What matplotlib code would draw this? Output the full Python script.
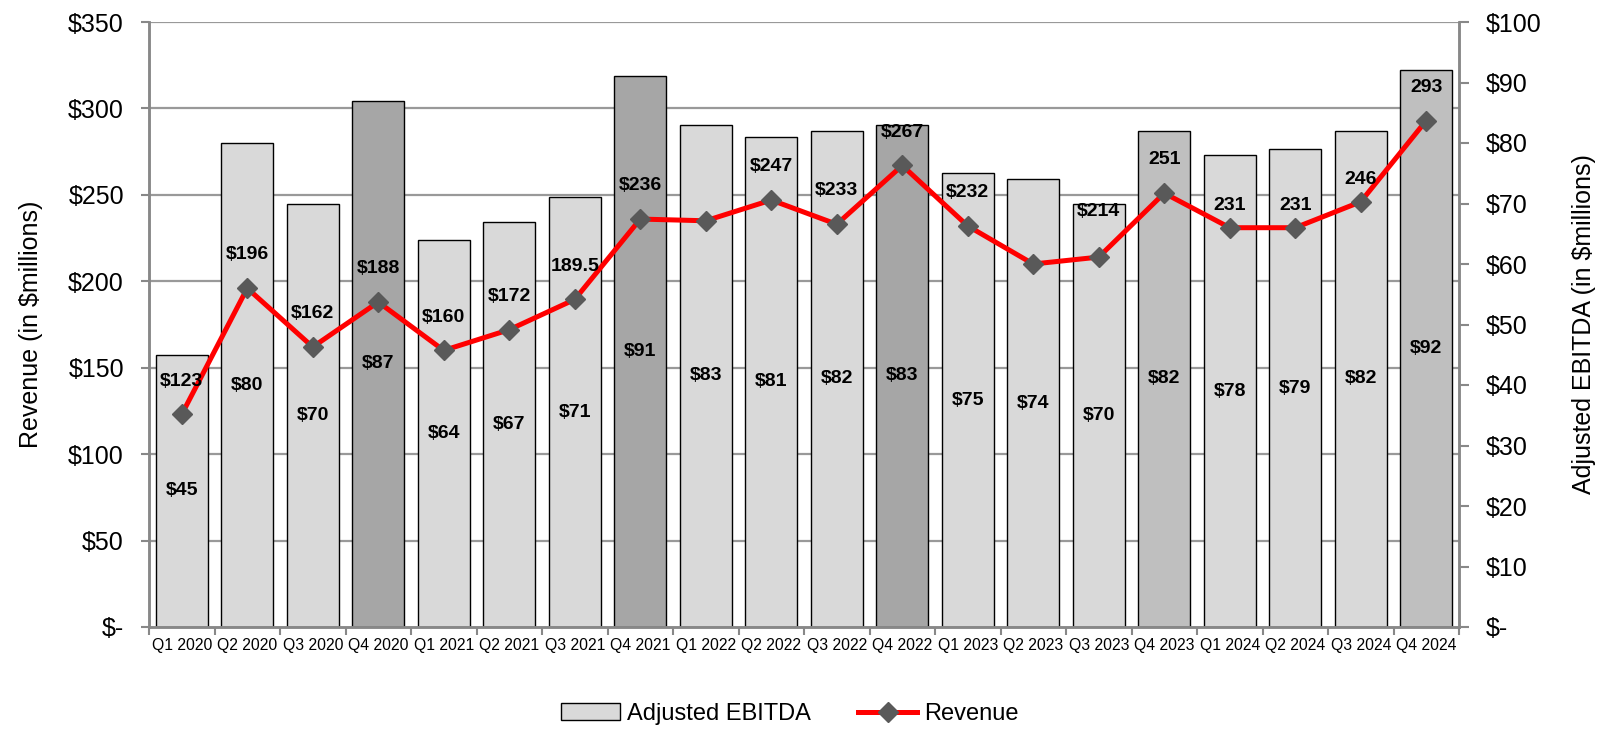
import matplotlib

matplotlib.use("Agg")
import matplotlib.pyplot as plt
import numpy as np

plt.rcParams["font.family"] = ["Liberation Sans", "DejaVu Sans"]

quarters = ["Q1 2020", "Q2 2020", "Q3 2020", "Q4 2020", "Q1 2021", "Q2 2021", "Q3 2021",
            "Q4 2021", "Q1 2022", "Q2 2022", "Q3 2022", "Q4 2022", "Q1 2023", "Q2 2023",
            "Q3 2023", "Q4 2023", "Q1 2024", "Q2 2024", "Q3 2024", "Q4 2024"]
ebitda = [45, 80, 70, 87, 64, 67, 71, 91, 83, 81, 82, 83, 75, 74, 70, 82, 78, 79, 82, 92]
revenue = [123, 196, 162, 188, 160, 172, 189.5, 236, 235, 247, 233, 267, 232, 210,
           214, 251, 231, 231, 246, 293]
revenue_labels = ["$123", "$196", "$162", "$188", "$160", "$172", "189.5", "$236", "",
                  "$247", "$233", "$267", "$232", "", "$214", "251", "231", "231", "246", "293"]
ebitda_labels = [f"${v}" for v in ebitda]

C_LIGHT, C_DARK, C_MID = "#d9d9d9", "#a6a6a6", "#bfbfbf"
bar_colors = [C_LIGHT] * len(quarters)
for i in (3, 7, 11):
    bar_colors[i] = C_DARK
for i in (15, 19):
    bar_colors[i] = C_MID
# label offsets above the revenue markers (points)
rev_off = [24] * len(quarters)
rev_off[14] = 33
rev_off[16] = rev_off[17] = rev_off[18] = 16

fig = plt.figure(figsize=(16.19, 7.31), dpi=100)
ax2 = fig.add_axes([149 / 1619, 1 - 627 / 731, 1310 / 1619, 605 / 731])
ax = ax2.twinx()
# bars on the right (EBITDA) axis, line on the left (revenue) axis
ax2.yaxis.tick_right(); ax2.yaxis.set_label_position("right")
ax.yaxis.tick_left(); ax.yaxis.set_label_position("left")

x = np.arange(len(quarters))
ax2.bar(x, ebitda, width=0.79, color=bar_colors, edgecolor="black", linewidth=1.0, zorder=2)
for xi, v, s in zip(x, ebitda, ebitda_labels):
    ax2.text(xi, v / 2, s, ha="center", va="center", fontsize=14, fontweight="bold", zorder=5)

ax.plot(x, revenue, color="#ff0000", lw=3.6, marker="D", ms=10, mfc="#595959", mec="#595959",
        zorder=4)
for xi, v, s, o in zip(x, revenue, revenue_labels, rev_off):
    if s:
        ax.annotate(s, (xi, v), xytext=(0, o), textcoords="offset points", ha="center",
                    va="center", fontsize=14, fontweight="bold", zorder=5)

ax.set_ylim(0, 350)
ax.set_yticks(range(0, 351, 50))
ax.set_yticklabels(["$-"] + [f"${v}" for v in range(50, 351, 50)])
ax2.set_ylim(0, 100)
ax2.set_yticks(range(0, 101, 10))
ax2.set_yticklabels(["$-"] + [f"${v}" for v in range(10, 101, 10)])
ax2.set_xlim(-0.5, len(quarters) - 0.5)
ax2.set_xticks(x)
ax2.set_xticklabels(quarters, fontsize=11.3)
ax2.set_xticks(np.arange(-0.5, len(quarters)), minor=True)
ax2.tick_params(axis="x", which="major", length=0, pad=8)
ax2.tick_params(axis="x", which="minor", length=6, color="#888888", width=1.5)
ax2.tick_params(axis="y", length=7, color="#888888", width=1.5, labelsize=18, pad=12)
ax.tick_params(axis="y", length=6, color="#888888", width=1.5, labelsize=18, pad=12)

# horizontal grid follows the revenue scale
for gy in range(50, 351, 50):
    ax2.axhline(gy / 3.5, color="#999999", lw=1.6, zorder=1)
for a in (ax, ax2):
    for sp in a.spines.values():
        sp.set_color("#888888"); sp.set_linewidth(1.8)
ax.spines["top"].set_visible(False); ax2.spines["top"].set_visible(False)

ax.set_ylabel("Revenue (in $millions)", fontsize=18, labelpad=18)
ax2.set_ylabel("Adjusted EBITDA (in $millions)", fontsize=18, labelpad=22)

h1 = plt.Rectangle((0, 0), 1, 1, facecolor=C_LIGHT, edgecolor="black", lw=1)
h2, = ax.plot([], [], color="#ff0000", lw=3.6, marker="D", ms=10, mfc="#595959", mec="#595959")
fig.legend([h1, h2], ["Adjusted EBITDA", "Revenue"], loc="center",
           bbox_to_anchor=(790 / 1619, 1 - 714 / 731), ncol=2, frameon=False, fontsize=17,
           handlelength=2.5, columnspacing=2.0, handletextpad=0.3)

fig.savefig("out.png", dpi=100)
